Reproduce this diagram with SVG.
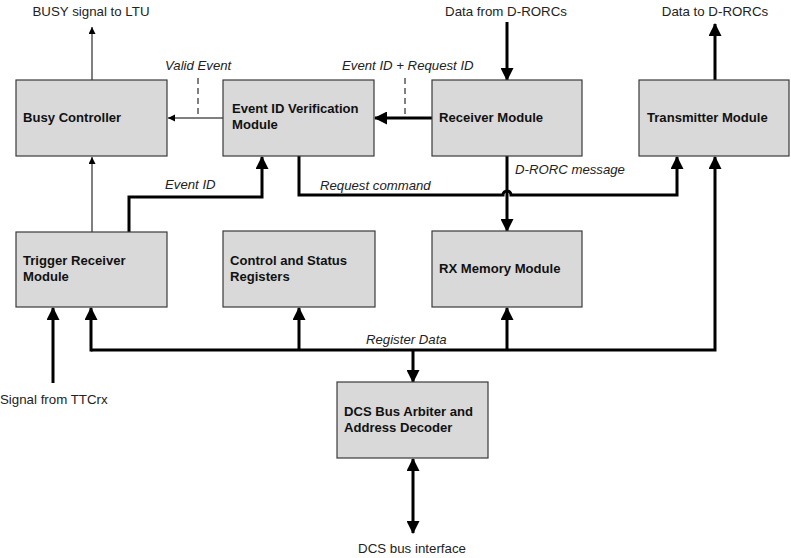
<svg xmlns="http://www.w3.org/2000/svg" width="791" height="558" viewBox="0 0 791 558">
<style>
.box{fill:#d9d9d9;stroke:#3a3a3a;stroke-width:1.2}
.nt{font-family:"Liberation Sans",Arial,sans-serif;font-size:13.1px;font-weight:bold;fill:#111}
.lb{font-family:"Liberation Sans",Arial,sans-serif;font-size:13.3px;fill:#222}
.it{font-family:"Liberation Sans",Arial,sans-serif;font-size:13.2px;font-style:italic;fill:#222}
.thick{fill:none;stroke:#000;stroke-width:3}
.thin{fill:none;stroke:#000;stroke-width:1}
.dash{fill:none;stroke:#000;stroke-width:1;stroke-dasharray:6,4}
</style>
<defs>
<marker id="ah" markerUnits="userSpaceOnUse" markerWidth="13" markerHeight="13" refX="12" refY="6.5" orient="auto">
<path d="M0,0 L13,6.5 L0,13 z" fill="#000"/>
</marker>
<marker id="ahs" markerUnits="userSpaceOnUse" markerWidth="13" markerHeight="13" refX="12" refY="6.5" orient="auto-start-reverse">
<path d="M0,0 L13,6.5 L0,13 z" fill="#000"/>
</marker>
<marker id="at" markerUnits="userSpaceOnUse" markerWidth="8" markerHeight="8" refX="7" refY="3.5" orient="auto">
<path d="M0,0 L7,3.5 L0,7 z" fill="#000"/>
</marker>
</defs>
<rect width="791" height="558" fill="#fff"/>
<g id="connectors">
<path class="thin" d="M92,80 V27" marker-end="url(#at)"/>
<path class="thin" d="M92,232 V157" marker-end="url(#at)"/>
<path class="thin" d="M223,118 H168" marker-end="url(#at)"/>
<path class="dash" d="M198,78 V118"/>
<path class="thick" d="M432,118 H375" marker-end="url(#ah)"/>
<path class="dash" d="M405,78 V118"/>
<path class="thick" d="M507,22 V80" marker-end="url(#ah)"/>
<path class="thick" d="M715,80 V24" marker-end="url(#ah)"/>
<path class="thick" d="M129,232 V197 H262 V157" marker-end="url(#ah)"/>
<path class="thick" d="M299,156 V195 H503 A4,4 0 0 1 511,195 H677 V157" marker-end="url(#ah)"/>
<path class="thick" d="M507,156 V231" marker-end="url(#ah)"/>
<path class="thick" d="M91,350 H715 V157" marker-end="url(#ah)"/>
<path class="thick" d="M91,351.5 V308" marker-end="url(#ah)"/>
<path class="thick" d="M299,350 V308" marker-end="url(#ah)"/>
<path class="thick" d="M507,350 V308" marker-end="url(#ah)"/>
<path class="thick" d="M413,350 V382" marker-end="url(#ah)"/>
<path class="thick" d="M53,383 V308" marker-end="url(#ah)"/>
<path class="thick" d="M413,459 V533" marker-start="url(#ahs)" marker-end="url(#ah)"/>
<text class="it" x="165" y="70">Valid Event</text>
<text class="it" x="342" y="70">Event ID + Request ID</text>
<text class="it" x="165" y="189">Event ID</text>
<text class="it" x="320" y="190">Request command</text>
<text class="it" x="515" y="174">D-RORC message</text>
<text class="it" x="366" y="344">Register Data</text>
</g>
<g id="busy"><rect class="box" x="16" y="80" width="151" height="76"/><text class="nt" x="23" y="122">Busy Controller</text></g>
<g id="eidv"><rect class="box" x="223" y="80" width="151" height="76"/><text class="nt" x="232" y="113">Event ID Verification</text><text class="nt" x="232" y="129">Module</text></g>
<g id="receiver"><rect class="box" x="432" y="80" width="150" height="76"/><text class="nt" x="439" y="122">Receiver Module</text></g>
<g id="transmitter"><rect class="box" x="639" y="80" width="150" height="76"/><text class="nt" x="647" y="122">Transmitter Module</text></g>
<g id="trigger"><rect class="box" x="16" y="232" width="151" height="75"/><text class="nt" x="23" y="265">Trigger Receiver</text><text class="nt" x="23" y="281">Module</text></g>
<g id="csr"><rect class="box" x="223" y="231" width="152" height="76"/><text class="nt" x="230" y="265">Control and Status</text><text class="nt" x="230" y="281">Registers</text></g>
<g id="rxmem"><rect class="box" x="432" y="231" width="150" height="76"/><text class="nt" x="439" y="273">RX Memory Module</text></g>
<g id="dcs"><rect class="box" x="337" y="382" width="151" height="76"/><text class="nt" x="344" y="416">DCS Bus Arbiter and</text><text class="nt" x="344" y="432">Address Decoder</text></g>
<g id="labels">
<text class="lb" x="91" y="16" text-anchor="middle">BUSY signal to LTU</text>
<text class="lb" x="506" y="16" text-anchor="middle">Data from D-RORCs</text>
<text class="lb" x="715" y="16" text-anchor="middle">Data to D-RORCs</text>
<text class="lb" x="0" y="404">Signal from TTCrx</text>
<text class="lb" x="412" y="553" text-anchor="middle">DCS bus interface</text>
</g>
</svg>
